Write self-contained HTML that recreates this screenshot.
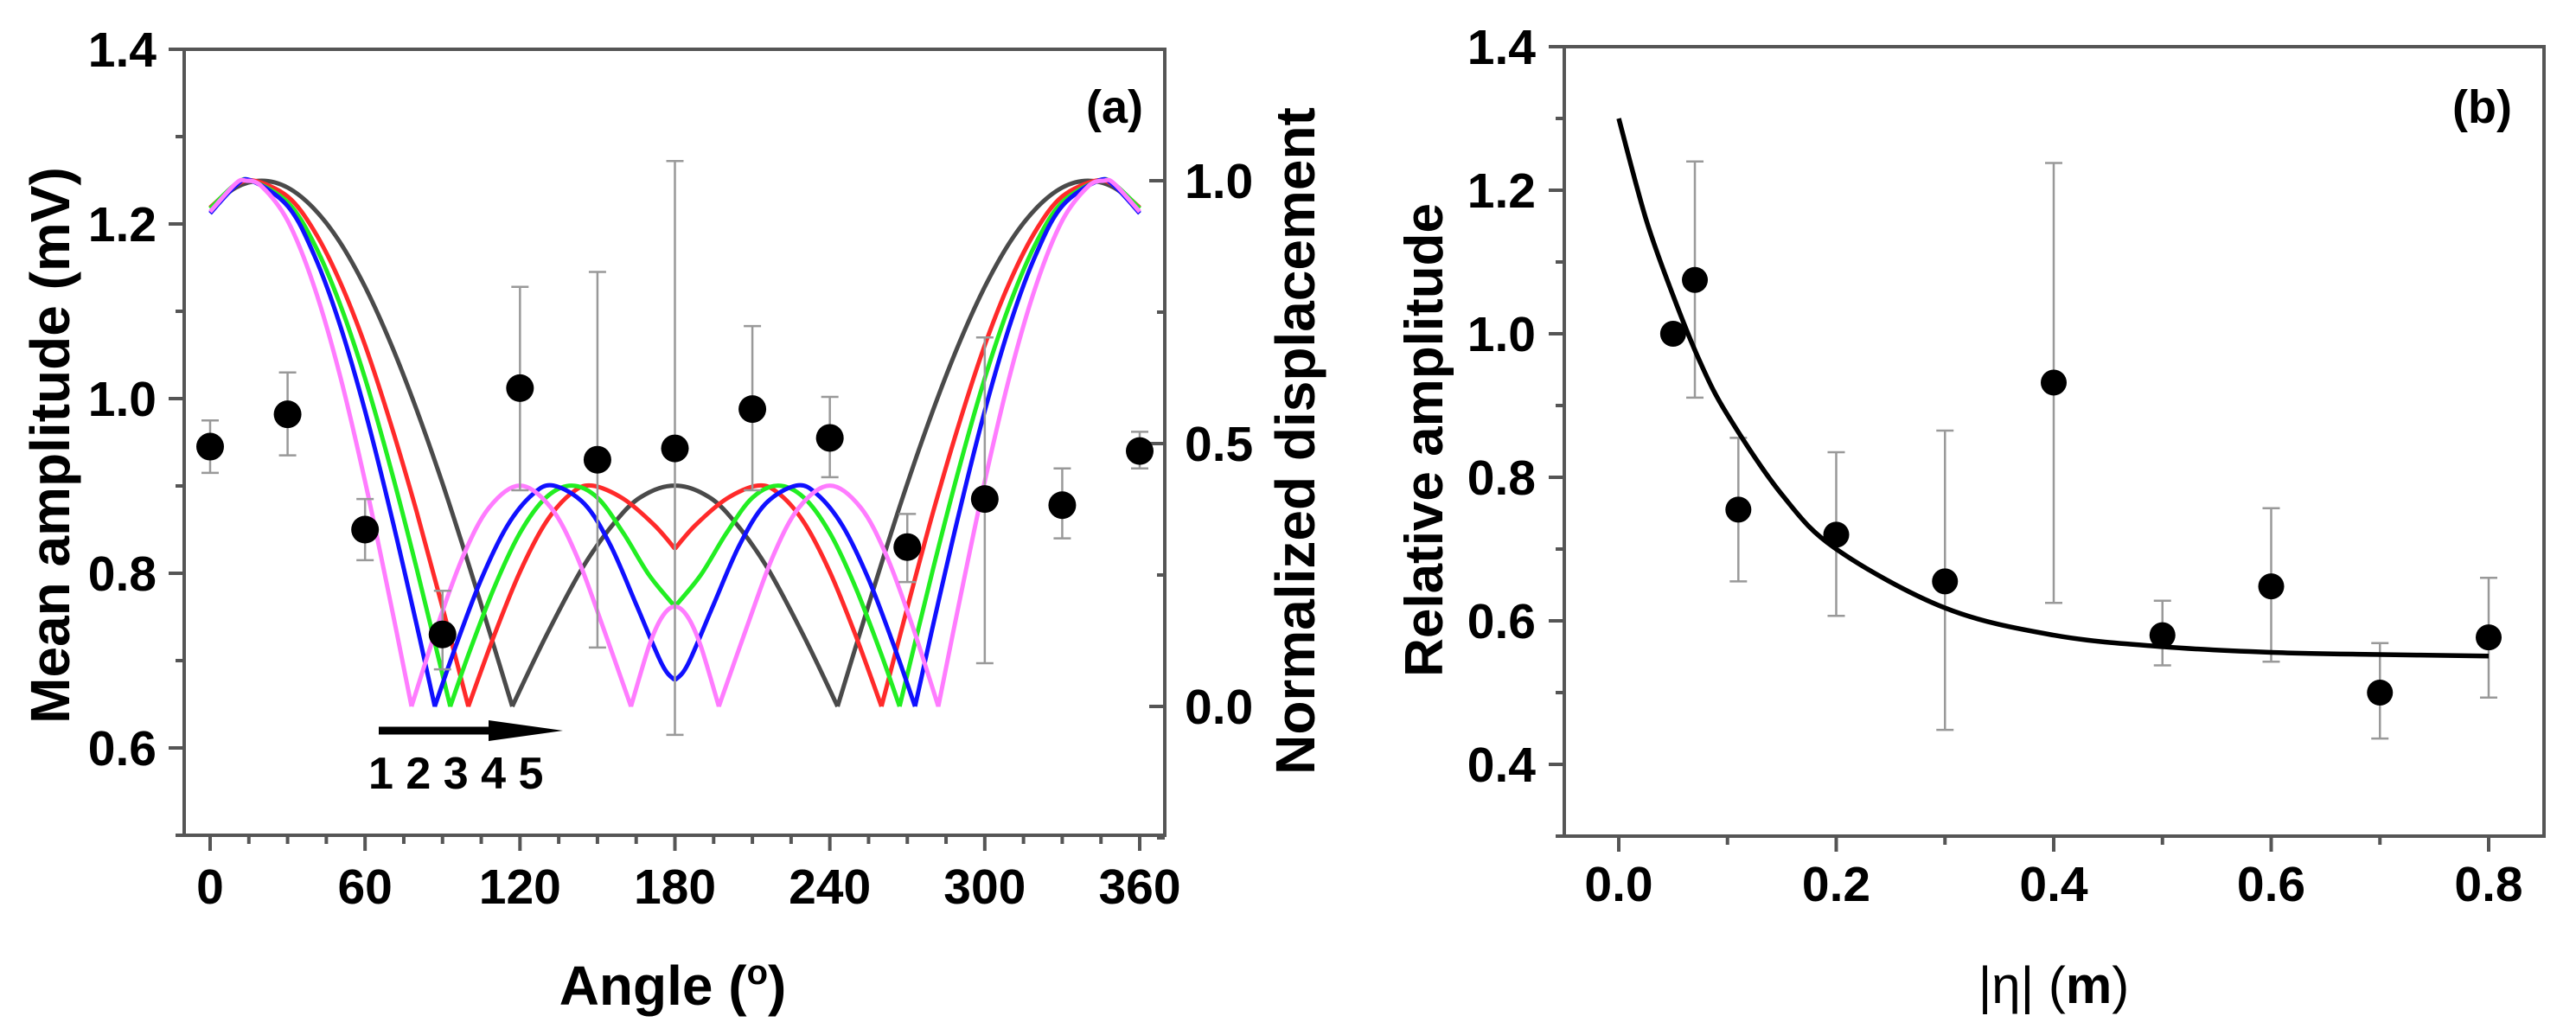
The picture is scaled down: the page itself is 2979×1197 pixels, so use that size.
<!DOCTYPE html>
<html><head><meta charset="utf-8"><style>
html,body{margin:0;padding:0;background:#fff;}
svg{display:block;font-family:"Liberation Sans",Arial,sans-serif;}
</style></head><body>
<svg id="fig" width="2979" height="1197" viewBox="0 0 2979 1197" xmlns="http://www.w3.org/2000/svg">
<rect width="2979" height="1197" fill="#fff"/>
<g id="pa"></g>
<g id="pb"></g>
<text x="1322" y="142" font-size="54" font-weight="bold" text-anchor="end">(a)</text>
<text x="2905" y="142" font-size="54" font-weight="bold" text-anchor="end">(b)</text>
<text transform="translate(80,515) rotate(-90)" font-size="64" font-weight="bold" text-anchor="middle">Mean amplitude (mV)</text>
<text transform="translate(1520,510) rotate(-90)" font-size="64" font-weight="bold" text-anchor="middle">Normalized displacement</text>
<text x="778" y="1162" font-size="64" font-weight="bold" text-anchor="middle">Angle (<tspan font-size="40" dy="-24">o</tspan><tspan dy="24">)</tspan></text>
<text transform="translate(1668,509) rotate(-90)" font-size="62" font-weight="bold" text-anchor="middle">Relative amplitude</text>
<text x="2375" y="1160" font-size="60" text-anchor="middle">|η| (<tspan font-weight="bold">m</tspan>)</text>
<line x1="438" y1="845" x2="575" y2="845" stroke="#000" stroke-width="9"/>
<polygon points="565,833 651,845 565,857" fill="#000"/>
<text x="426" y="912" font-size="52" font-weight="bold">1 2 3 4 5</text>
</svg>
<script>
// ---- Panel (a) data ----
const angles = [0,30,60,90,120,150,180,210,240,270,300,330,360];
const ampMean = [0.945,0.982,0.850,0.730,1.012,0.930,0.943,0.988,0.955,0.830,0.885,0.878,0.940];
const ampLow  = [0.915,0.935,0.815,0.690,0.895,0.715,0.615,0.895,0.910,0.790,0.697,0.840,0.920];
const ampHigh = [0.975,1.030,0.885,0.780,1.128,1.145,1.272,1.083,1.002,0.868,1.070,0.920,0.962];
const xTicksA = [0,60,120,180,240,300,360];
const yTicksA = [0.6,0.8,1.0,1.2,1.4];
const yTicksRight = [0.0,0.5,1.0];
// model curves (normalized displacement), half pattern 0..180 (mirrored about 180)
const curveBlackAng = [0,10,20,30,40,50,60,70,80,90,100,110,117,130,145,160,170,180];
const curveBlackVal = [0.948,0.987,1.0,0.987,0.948,0.885,0.798,0.69,0.564,0.424,0.272,0.113,0,0.133,0.27,0.369,0.407,0.42];
const curveRedAng = [0,10,17,30,40,50,60,70,80,90,100,110,120,130,140,148,160,172,180];
const curveRedVal = [0.949,0.991,1.0,0.97,0.907,0.811,0.687,0.537,0.37,0.188,0,0.135,0.256,0.35,0.406,0.42,0.395,0.345,0.30];
const curveGreenAng = [0,10,16,30,40,50,60,70,80,93,100,110,120,130,140,150,160,170,180];
const curveGreenVal = [0.947,0.994,1.0,0.959,0.883,0.769,0.624,0.452,0.262,0,0.098,0.226,0.33,0.397,0.42,0.397,0.33,0.25,0.19];
const curveBlueAng = [0,10,16,30,40,50,60,70,80,87,95,105,115,125,133,145,155,165,175,180];
const curveBlueVal = [0.938,0.991,1.0,0.952,0.862,0.73,0.562,0.367,0.155,0,0.113,0.242,0.343,0.404,0.42,0.385,0.307,0.194,0.08,0.05];
const curvePinkAng = [0,10,14,20,30,40,50,60,70,78,88,98,108,120,132,142,152,163,170,175,180];
const curvePinkVal = [0.941,0.995,1.0,0.989,0.924,0.803,0.635,0.428,0.195,0,0.153,0.286,0.378,0.42,0.378,0.286,0.153,0,0.115,0.17,0.19];
// ---- Panel (b) data ----
const etaX = [0.05,0.07,0.11,0.2,0.3,0.4,0.5,0.6,0.7,0.8];
const relAmp = [1.0,1.075,0.755,0.72,0.655,0.932,0.58,0.648,0.50,0.577];
const relLow = [1.0,0.911,0.655,0.607,0.448,0.625,0.538,0.543,0.436,0.493];
const relHigh = [1.0,1.240,0.855,0.835,0.865,1.238,0.628,0.757,0.569,0.660];
const fitX = [0,0.025,0.05,0.075,0.1,0.15,0.2,0.3,0.4,0.5,0.6,0.7,0.8];
const fitY = [1.30,1.16,1.053,0.96,0.887,0.776,0.70,0.618,0.58,0.564,0.556,0.553,0.551];
const xTicksB = [0.0,0.2,0.4,0.6,0.8];
const yTicksB = [0.4,0.6,0.8,1.0,1.2,1.4];

const NS = "http://www.w3.org/2000/svg";
function mk(parent, tag, attrs){const e=document.createElementNS(NS,tag);for(const k in attrs)e.setAttribute(k,attrs[k]);parent.appendChild(e);return e;}
const xA = a => 243 + (a/360)*(1318-243);
const yA = v => 57 + (1.4 - v)*1010;
const yR = v => 817 - v*608;
const xB = e => 1872 + e*1257.5;
const yB = v => 54 + (1.4 - v)*830;

function catmull(pts){
  if(pts.length<2) return "";
  let d="M"+pts[0][0].toFixed(1)+","+pts[0][1].toFixed(1);
  for(let i=0;i<pts.length-1;i++){
    const p0=pts[Math.max(0,i-1)],p1=pts[i],p2=pts[i+1],p3=pts[Math.min(pts.length-1,i+2)];
    const c1=[p1[0]+(p2[0]-p0[0])/6,p1[1]+(p2[1]-p0[1])/6];
    const c2=[p2[0]-(p3[0]-p1[0])/6,p2[1]-(p3[1]-p1[1])/6];
    d+=" C"+c1[0].toFixed(1)+","+c1[1].toFixed(1)+" "+c2[0].toFixed(1)+","+c2[1].toFixed(1)+" "+p2[0].toFixed(1)+","+p2[1].toFixed(1);
  }
  return d;
}

const pa=document.getElementById('pa');
const pb=document.getElementById('pb');

const frameA=mk(pa,'rect',{x:213,y:57,width:1134,height:909,fill:'none',stroke:'#555','stroke-width':4});


for(let a=0;a<=360;a+=15){
  const major=a%60===0;
  const t=mk(pa,'line',{x1:xA(a),x2:xA(a),y1:966,y2:966+(major?18:10),stroke:'#555','stroke-width':4});
  
  
}
xTicksA.forEach(a=>{
  const t=mk(pa,'text',{x:xA(a),y:1045,'font-size':57,'font-weight':'bold','text-anchor':'middle'});
  t.textContent=String(a);
  
  
});
for(let v=0.5;v<=1.401;v+=0.1){
  const major=Math.abs(Math.round(v*10)%2)===0;
  const t=mk(pa,'line',{x1:213-(major?18:10),x2:213,y1:yA(v),y2:yA(v),stroke:'#555','stroke-width':4});
  
  
}
yTicksA.forEach(v=>{
  const t=mk(pa,'text',{x:181,y:yA(v)+20,'font-size':57,'font-weight':'bold','text-anchor':'end'});
  t.textContent=v.toFixed(1);
  
  
});
for(let v=-0.25;v<=1.251;v+=0.25){
  const major=Math.abs(v*2-Math.round(v*2))<1e-6;
  const t=mk(pa,'line',{x1:1347-(major?18:9),x2:1347,y1:yR(v),y2:yR(v),stroke:'#555','stroke-width':4});
  
  
}
yTicksRight.forEach(v=>{
  const t=mk(pa,'text',{x:1370,y:yR(v)+20,'font-size':57,'font-weight':'bold','text-anchor':'start'});
  t.textContent=v.toFixed(1);
  
  
});

const curves=[
  {ang:curveBlackAng,val:curveBlackVal,color:'#4a4a4a',name:'curve-1-black'},
  {ang:curveRedAng,val:curveRedVal,color:'#ff2a2a',name:'curve-2-red'},
  {ang:curveGreenAng,val:curveGreenVal,color:'#22ee22',name:'curve-3-green'},
  {ang:curveBlueAng,val:curveBlueVal,color:'#1010ff',name:'curve-4-blue'},
  {ang:curvePinkAng,val:curvePinkVal,color:'#ff7cff',name:'curve-5-pink'}
];
curves.forEach(c=>{
  const full=[];
  for(let i=0;i<c.ang.length;i++) full.push([c.ang[i],c.val[i]]);
  for(let i=c.ang.length-2;i>=0;i--) full.push([360-c.ang[i],c.val[i]]);
  const segs=[];let cur=[full[0]];
  for(let i=1;i<full.length;i++){
    cur.push(full[i]);
    const isMin=i<full.length-1 && full[i][1]<full[i-1][1] && full[i][1]<full[i+1][1];
    if(isMin){segs.push(cur);cur=[full[i]];}
  }
  segs.push(cur);
  let d="";
  segs.forEach(s=>{d+=catmull(s.map(p=>[xA(p[0]),yR(p[1])]))+" ";});
  const p=mk(pa,'path',{d:d,fill:'none',stroke:c.color,'stroke-width':5,'stroke-linejoin':'miter'});
  
  
});

angles.forEach((a,i)=>{
  const x=xA(a);
  const g=mk(pa,'g',{stroke:'#999','stroke-width':2.5});
  
  
  mk(g,'line',{x1:x,x2:x,y1:yA(ampLow[i]),y2:yA(ampHigh[i])});
  mk(g,'line',{x1:x-10,x2:x+10,y1:yA(ampLow[i]),y2:yA(ampLow[i])});
  mk(g,'line',{x1:x-10,x2:x+10,y1:yA(ampHigh[i]),y2:yA(ampHigh[i])});
});
angles.forEach((a,i)=>{
  const c=mk(pa,'circle',{cx:xA(a),cy:yA(ampMean[i]),r:16,fill:'#000'});
  
  
});

const frameB=mk(pb,'rect',{x:1809,y:54,width:1133,height:913,fill:'none',stroke:'#555','stroke-width':4});


for(let k=0;k<=8;k++){
  const e=k/10, major=k%2===0;
  const t=mk(pb,'line',{x1:xB(e),x2:xB(e),y1:967,y2:967+(major?18:10),stroke:'#555','stroke-width':4});
  
  
}
xTicksB.forEach(e=>{
  const t=mk(pb,'text',{x:xB(e),y:1042,'font-size':57,'font-weight':'bold','text-anchor':'middle'});
  t.textContent=e.toFixed(1);
  
  
});
for(let k=3;k<=14;k++){
  const v=k/10, major=k%2===0;
  const t=mk(pb,'line',{x1:1809-(major?18:10),x2:1809,y1:yB(v),y2:yB(v),stroke:'#555','stroke-width':4});
  
  
}
yTicksB.forEach(v=>{
  const t=mk(pb,'text',{x:1776,y:yB(v)+20,'font-size':57,'font-weight':'bold','text-anchor':'end'});
  t.textContent=v.toFixed(1);
  
  
});
etaX.forEach((e,i)=>{
  if(relHigh[i]-relLow[i]<0.005) return;
  const x=xB(e);
  const g=mk(pb,'g',{stroke:'#999','stroke-width':2.5});
  
  
  mk(g,'line',{x1:x,x2:x,y1:yB(relLow[i]),y2:yB(relHigh[i])});
  mk(g,'line',{x1:x-10,x2:x+10,y1:yB(relLow[i]),y2:yB(relLow[i])});
  mk(g,'line',{x1:x-10,x2:x+10,y1:yB(relHigh[i]),y2:yB(relHigh[i])});
});
const fit=mk(pb,'path',{d:catmull(fitX.map((x,i)=>[xB(x),yB(fitY[i])])),fill:'none',stroke:'#000','stroke-width':5.5});


etaX.forEach((e,i)=>{
  const c=mk(pb,'circle',{cx:xB(e),cy:yB(relAmp[i]),r:15,fill:'#000'});
  
  
});
</script>
</body></html>
